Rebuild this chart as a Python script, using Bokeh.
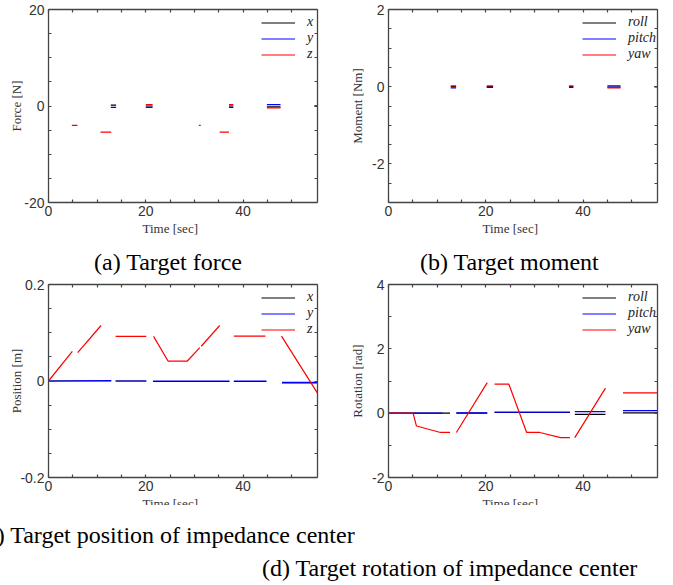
import numpy as np
from bokeh.plotting import figure
from bokeh.models import FixedTicker, LinearAxis, Legend, LegendItem, Range1d, Div, Title
from bokeh.layouts import column, row
from bokeh.embed import file_html
from bokeh.resources import INLINE

nan = float("nan")

# ---------------- axis values ----------------
time_range = (0, 55.3)
time_ticks = [0, 20, 40]
time_minor = [5, 10, 15, 25, 30, 35, 45, 50]

force_range = (-20, 20)
force_ticks = [-20, 0, 20]
force_minor = [-15, -10, -5, 5, 10, 15]

moment_range = (-3, 2)
moment_ticks = [-2, 0, 2]
moment_minor = [-2.5, -1.5, -1, -0.5, 0.5, 1, 1.5]

position_range = (-0.2, 0.2)
position_ticks = [-0.2, 0, 0.2]
position_minor = [-0.15, -0.1, -0.05, 0.05, 0.1, 0.15]

rotation_range = (-2, 4)
rotation_ticks = [-2, 0, 2, 4]
rotation_minor = [-1, 1, 3]

# ---------------- (a) target force ----------------
force_t_xy = [12.8, 13.9, nan, 20.0, 21.4, nan, 37.1, 38.0, nan, 44.9, 47.7, nan, 54.7, 55.3]
force_x = [0.2, 0.2, nan, 0.0, 0.0, nan, 0.0, 0.0, nan, -0.2, -0.2, nan, 0.0, 0.0]
force_y = [-0.3, -0.3, nan, -0.3, -0.3, nan, -0.3, -0.3, nan, 0.3, 0.3, nan, 0.0, 0.0]
force_t_z = [4.8, 5.95, nan, 10.7, 12.9, nan, 20.0, 21.4, nan, 30.9, 31.3, nan,
             35.2, 37.1, nan, 37.1, 38.0, nan, 44.9, 47.7, nan, 54.7, 55.3]
force_z = [-4.0, -4.0, nan, -5.4, -5.4, nan, 0.3, 0.3, nan, -4.0, -4.0, nan,
           -5.4, -5.4, nan, 0.3, 0.3, nan, -0.4, -0.4, nan, 0.0, 0.0]

# ---------------- (b) target moment ----------------
moment_t = [12.8, 13.9, nan, 20.2, 21.5, nan, 37.1, 38.0, nan, 45.0, 47.7, nan, 54.7, 55.3]
moment_roll = [0.0, 0.0, nan, 0.0, 0.0, nan, 0.0, 0.0, nan, -0.01, -0.01, nan, 0.0, 0.0]
moment_pitch = [-0.03, -0.03, nan, -0.02, -0.02, nan, -0.02, -0.02, nan, 0.02, 0.02, nan, 0.0, 0.0]
moment_yaw = [0.02, 0.02, nan, 0.02, 0.02, nan, 0.02, 0.02, nan, -0.03, -0.03, nan, 0.0, 0.0]

# ---------------- (c) target position ----------------
position_t_xy = [0.0, 12.9, nan, 13.8, 20.1, nan, 21.5, 37.2, nan, 38.1, 44.8, nan, 48.0, 55.3]
position_x = [0.0, 0.0, nan, 0.0, 0.0, nan, -0.001, -0.001, nan, -0.001, -0.001, nan, -0.004, -0.004]
position_y = [0.0, 0.001, nan, 0.0, 0.0, nan, 0.0, 0.0, nan, 0.0, 0.0, nan, -0.003, -0.003]
position_t_z = [0.0, 4.9, nan, 6.0, 10.8, nan, 13.8, 20.1, nan, 21.6, 24.6, 28.5, 31.1, nan,
                31.4, 35.2, nan, 38.1, 44.6, nan, 47.9, 55.3]
position_z = [0.0, 0.0615, nan, 0.059, 0.115, nan, 0.0925, 0.0925, nan, 0.0925, 0.041, 0.041, 0.069, nan,
              0.072, 0.115, nan, 0.093, 0.093, nan, 0.093, -0.025]

# ---------------- (d) target rotation ----------------
rotation_t_roll = [0.0, 12.65, nan, 13.95, 20.3, nan, 21.8, 37.3, nan, 38.3, 44.6, nan, 48.2, 55.3]
rotation_roll = [0.0, 0.0, nan, 0.0, 0.0, nan, 0.02, 0.02, nan, -0.04, -0.04, nan, 0.01, 0.01]
rotation_t_pitch = [0.0, 11.1, nan, 13.95, 20.3, nan, 21.8, 37.3, nan, 38.3, 44.6, nan, 48.2, 55.3]
rotation_pitch = [0.0, 0.0, nan, 0.01, 0.01, nan, 0.03, 0.03, nan, 0.05, 0.05, nan, 0.08, 0.08]
rotation_t_yaw = [0.0, 5.05, 5.75, 10.7, 12.65, nan, 13.95, 20.3, nan, 21.8, 24.75, 28.4, 31.1, 35.4, 37.3, nan,
                  38.3, 44.6, nan, 48.2, 55.3]
rotation_yaw = [0.0, 0.0, -0.4, -0.6, -0.6, nan, -0.6, 0.95, nan, 0.9, 0.9, -0.6, -0.6, -0.76, -0.76, nan,
                -0.76, 0.78, nan, 0.63, 0.63]

# ---------------- captions ----------------
caption_a = "(a) Target force"
caption_b = "(b) Target moment"
caption_c = "(c) Target position of impedance center"
caption_d = "(d) Target rotation of impedance center"

COLORS = ["#000000", "#0000ff", "#ff0000"]
AXIS_COLOR = "#444444"
TEXT_COLOR = "#333333"
SANS = "Liberation Sans"
SERIF = "Liberation Serif"


def fmt(v):
    return "%g" % v


def style_axis(ax, show_labels, standoff=4):
    ax.axis_line_color = AXIS_COLOR
    ax.axis_line_width = 1.3
    ax.major_tick_line_color = AXIS_COLOR
    ax.minor_tick_line_color = AXIS_COLOR
    ax.major_tick_in = 3
    ax.major_tick_out = 0
    ax.minor_tick_in = 3
    ax.minor_tick_out = 0
    ax.major_tick_line_width = 1.2
    ax.minor_tick_line_width = 1.2
    if show_labels:
        ax.major_label_text_font = SANS
        ax.major_label_text_font_size = "14px"
        ax.major_label_text_color = TEXT_COLOR
        ax.major_label_standoff = standoff
    else:
        ax.major_label_text_font_size = "0px"
        ax.major_label_standoff = 0


def make_panel(width, height, border_left, border_right, y_range, y_ticks, y_minor,
               y_label, y_label_standoff, series, labels, legend_x):
    p = figure(width=width, height=height,
               x_range=Range1d(*time_range), y_range=Range1d(*y_range),
               output_backend="svg", toolbar_location=None,
               x_axis_location=None, y_axis_location=None,
               min_border_left=border_left, min_border_right=border_right,
               min_border_top=9, min_border_bottom=38)
    p.grid.visible = False
    p.outline_line_color = None
    p.background_fill_color = "white"
    p.border_fill_color = "white"

    xover = {t: fmt(t) for t in time_ticks}
    yover = {t: fmt(t) for t in y_ticks}

    xb = LinearAxis(ticker=FixedTicker(ticks=time_ticks, minor_ticks=time_minor),
                    major_label_overrides=xover)
    style_axis(xb, True, standoff=3)
    p.add_layout(xb, "below")

    xt = LinearAxis(ticker=FixedTicker(ticks=time_ticks, minor_ticks=time_minor),
                    major_label_overrides={t: "" for t in time_ticks})
    style_axis(xt, False)
    p.add_layout(xt, "above")

    yl = LinearAxis(ticker=FixedTicker(ticks=y_ticks, minor_ticks=y_minor),
                    major_label_overrides=yover, axis_label=y_label)
    style_axis(yl, True, standoff=4)
    yl.axis_label_text_font = SERIF
    yl.axis_label_text_font_style = "normal"
    yl.axis_label_text_font_size = "13px"
    yl.axis_label_text_color = TEXT_COLOR
    yl.axis_label_standoff = y_label_standoff
    p.add_layout(yl, "left")

    yr = LinearAxis(ticker=FixedTicker(ticks=y_ticks, minor_ticks=y_minor),
                    major_label_overrides={t: "" for t in y_ticks})
    style_axis(yr, False)
    p.add_layout(yr, "right")

    p.add_layout(Title(text="Time [sec]", align="left", offset=94, vertical_align="top",
                       text_font=SERIF, text_font_size="13px", text_font_style="normal",
                       text_color=TEXT_COLOR, standoff=4), "below")

    items = []
    for (t, v), lab, col in zip(series, labels, COLORS):
        r = p.line(np.array(t, dtype=float), np.array(v, dtype=float), line_color=col, line_width=1.2)
        items.append(LegendItem(label=lab, renderers=[r]))

    leg = Legend(items=items, location=(legend_x, 140), orientation="vertical",
                 padding=0, margin=0, spacing=0, glyph_width=34, glyph_height=15,
                 label_height=15, label_standoff=12,
                 label_text_font=SERIF, label_text_font_style="italic",
                 label_text_font_size="14px", label_text_color="#222222",
                 background_fill_alpha=0, border_line_alpha=0)
    p.add_layout(leg)
    return p


fa = make_panel(330, 240, 48, 13, force_range, force_ticks, force_minor, "Force [N]", -3,
                [(force_t_xy, force_x), (force_t_xy, force_y), (force_t_z, force_z)],
                ["x", "y", "z"], 213)
fb = make_panel(343, 240, 58, 16, moment_range, moment_ticks, moment_minor, "Moment [Nm]", 4,
                [(moment_t, moment_roll), (moment_t, moment_pitch), (moment_t, moment_yaw)],
                ["roll", "pitch", "yaw"], 194)
fc = make_panel(330, 240, 48, 13, position_range, position_ticks, position_minor, "Position [m]", -7,
                [(position_t_xy, position_x), (position_t_xy, position_y), (position_t_z, position_z)],
                ["x", "y", "z"], 213)
fd = make_panel(343, 240, 58, 16, rotation_range, rotation_ticks, rotation_minor, "Rotation [rad]", 4,
                [(rotation_t_roll, rotation_roll), (rotation_t_pitch, rotation_pitch), (rotation_t_yaw, rotation_yaw)],
                ["roll", "pitch", "yaw"], 194)

span = ("position:absolute;white-space:nowrap;font-family:'Liberation Serif';"
        "font-size:24px;line-height:24px;color:#000;")

cap_top = Div(text=(
    '<div style="position:relative;width:673px;height:35px;">'
    f'<span style="{span}left:94px;top:10px;">{caption_a}</span>'
    f'<span style="{span}left:420px;top:10px;">{caption_b}</span>'
    '</div>'), width=673, height=35, margin=0)

cap_bottom = Div(text=(
    '<div style="position:relative;width:673px;height:80px;background:#fff;">'
    f'<span style="{span}left:-22px;top:18px;">{caption_c}</span>'
    f'<span style="{span}left:262px;top:51px;">{caption_d}</span>'
    '</div>'), width=673, height=80, margin=(-10, 0, 0, 0),
    styles={"background-color": "#ffffff", "position": "relative", "z-index": "2"})

layout = column(row(fa, fb), cap_top, row(fc, fd), cap_bottom)

open("out.html", "w").write(file_html(layout, INLINE))
